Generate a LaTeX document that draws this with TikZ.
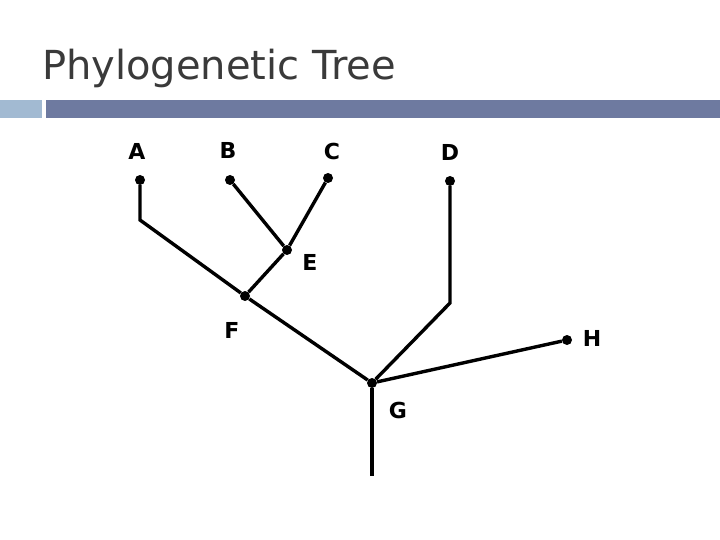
\documentclass[tikz,border=0pt]{standalone}
\usepackage{fontspec}
\setmainfont{DejaVu Sans}
\newfontfamily\lab{DejaVu Sans}
\definecolor{tgray}{HTML}{3A3A3A}
\definecolor{lblue}{HTML}{A2BAD2}
\definecolor{barc}{HTML}{6E7AA0}
\begin{document}
\begin{tikzpicture}[x=1pt,y=-1pt,
  dot/.style={circle,fill=black,inner sep=0pt,minimum size=10pt},
  lbl/.style={font=\lab\bfseries\fontsize{22}{22}\selectfont},
  br/.style={line width=3.4pt}]
\useasboundingbox (0,0) rectangle (720,540);
\node[anchor=west,text=tgray,inner sep=0pt,font=\fontsize{40}{40}\selectfont] (t) at (42,68) {Phylogenetic Tree};
\fill[lblue] (0,100) rectangle (42,118);
\fill[barc] (46,100) rectangle (720,118);
\node[dot] (A) at (140,180) {};
\node[dot] (B) at (230,180) {};
\node[dot] (C) at (328,178) {};
\node[dot] (D) at (450,181) {};
\node[dot] (E) at (287,250) {};
\node[dot] (F) at (245,296) {};
\node[dot] (G) at (372,383) {};
\node[dot] (H) at (567,340) {};
\coordinate (a1) at (140,220);
\coordinate (d1) at (450,303);
\coordinate (root) at (372,476);
\draw[br] (A) -- (a1) -- (F);
\draw[br] (B) -- (E);
\draw[br] (C) -- (E);
\draw[br] (E) -- (F);
\draw[br] (F) -- (G);
\draw[br] (D) -- (d1) -- (G);
\draw[br] (H) -- (G);
\draw[br] (G) -- (root);
\node[lbl] (la) at (137,151) {A};
\node[lbl] (lb) at (228,150) {B};
\node[lbl] (lc) at (332,151) {C};
\node[lbl] (ld) at (450,152) {D};
\node[lbl] (le) at (310,262) {E};
\node[lbl] (lf) at (232,330) {F};
\node[lbl] (lg) at (398,410) {G};
\node[lbl] (lh) at (592,338) {H};
\end{tikzpicture}
\end{document}
